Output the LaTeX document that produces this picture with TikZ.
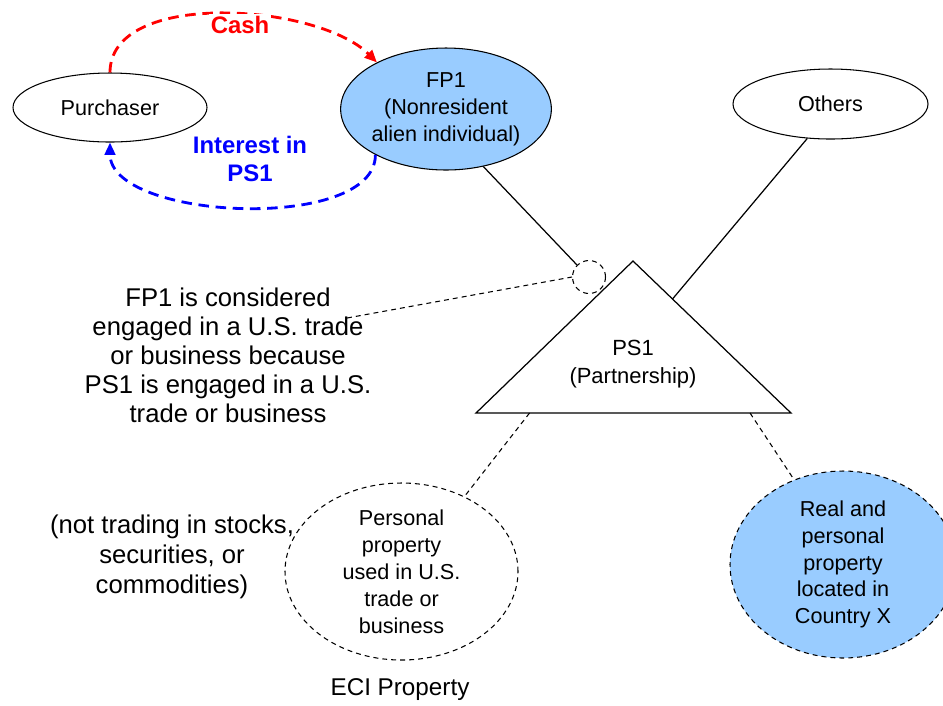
\documentclass[tikz,border=0pt]{standalone}
\usepackage{fontspec}
\setmainfont{Liberation Sans}
\usetikzlibrary{shapes.geometric,arrows.meta,calc}
\definecolor{fpblue}{HTML}{99CCFF}

\begin{document}
\begin{tikzpicture}[
    party/.style={ellipse, draw, line width=0.6pt, inner sep=0pt, align=center,
      font=\fontsize{12.3}{15.3}\selectfont},
    asset/.style={ellipse, draw, line width=0.6pt, dash pattern=on 2.8pt off 2.3pt,
      inner sep=0pt, inner ysep=-4pt, align=center, font=\fontsize{12.3}{15.3}\selectfont},
    note/.style={align=center, font=\fontsize{14.6}{16.5}\selectfont},
    flow/.style={line width=1.6pt, dash pattern=on 6pt off 3.8pt,
      -{Triangle[length=7pt,width=6pt]}},
    tie/.style={line width=0.7pt},
    hint/.style={line width=0.6pt, dash pattern=on 2.8pt off 2.3pt}
    ]
    \clip (0,0) rectangle (18.86,-14.1);
    \fill[white] (0,0) rectangle (18.86,-14.1);

    \node[party, minimum width=3.88cm, minimum height=1.38cm] (purch) at (2.2,-2.15) {Purchaser};
    \node[party, fill=fpblue, minimum width=4.12cm, minimum height=2.44cm] (fp1) at (8.92,-2.18)
      {FP1\\(Nonresident\\alien individual)};
    \node[party, minimum width=3.9cm, minimum height=1.4cm] (others) at (16.61,-2.08) {Others};

    % partnership
    \coordinate (apex) at (12.66,-5.22);
    \coordinate (tl) at (9.52,-8.26);
    \coordinate (tr) at (15.82,-8.26);
    \draw[tie] (apex) -- (tl) -- (tr) -- cycle;
    \node[align=center, font=\fontsize{12.5}{15.9}\selectfont] (ps1) at (12.66,-7.28) {PS1\\(Partnership)};
    \node[circle, hint, draw, minimum size=0.66cm, inner sep=0pt] (link) at (11.78,-5.54) {};

    \node[asset, minimum width=4.66cm, minimum height=3.54cm] (eci) at (8.03,-11.43)
      {Personal\\property\\used in U.S.\\trade or\\business};
    \node[asset, fill=fpblue, minimum width=4.52cm, minimum height=3.74cm] (country) at (16.86,-11.29)
      {Real and\\personal\\property\\located in\\Country X};

    \node[note] (engaged) at (4.56,-7.1) {FP1 is considered\\engaged in a U.S. trade\\or business because\\PS1 is engaged in a U.S.\\trade or business};
    \coordinate (engagedend) at (6.94,-6.36);
    \node[note, font=\fontsize{14.6}{17}\selectfont] (stocks) at (3.44,-11.14) {(not trading in stocks,\\securities, or\\commodities)};
    \node[font=\fontsize{13.8}{16}\selectfont] (eciname) at (8.0,-13.8) {ECI Property};

    \draw[tie] (fp1.-57) -- (link.135);
    \draw[tie] (others.236) -- ($(apex)!0.25!(tr)$);
    \draw[hint] (engagedend) -- (link.west);
    \draw[hint] ($(tl)!0.17!(tr)$) -- (eci.50);
    \draw[hint] ($(tl)!0.87!(tr)$) -- (country.120);

    % sale of the interest
    \draw[flow, red] (purch.north) to[out=90, in=135, looseness=0.8] (fp1.146);
    \draw[flow, blue] (fp1.213) to[out=-90, in=-90, looseness=0.75] (purch.south);
    \node[red, fill=white, inner sep=1pt, font=\bfseries\fontsize{13.6}{15.9}\selectfont] (cash) at (4.8,-0.5) {Cash};
    \node[blue, align=center, font=\bfseries\fontsize{13.6}{15.9}\selectfont] (interest) at (5.0,-3.18) {Interest in\\PS1};
  \end{tikzpicture}
\end{document}
